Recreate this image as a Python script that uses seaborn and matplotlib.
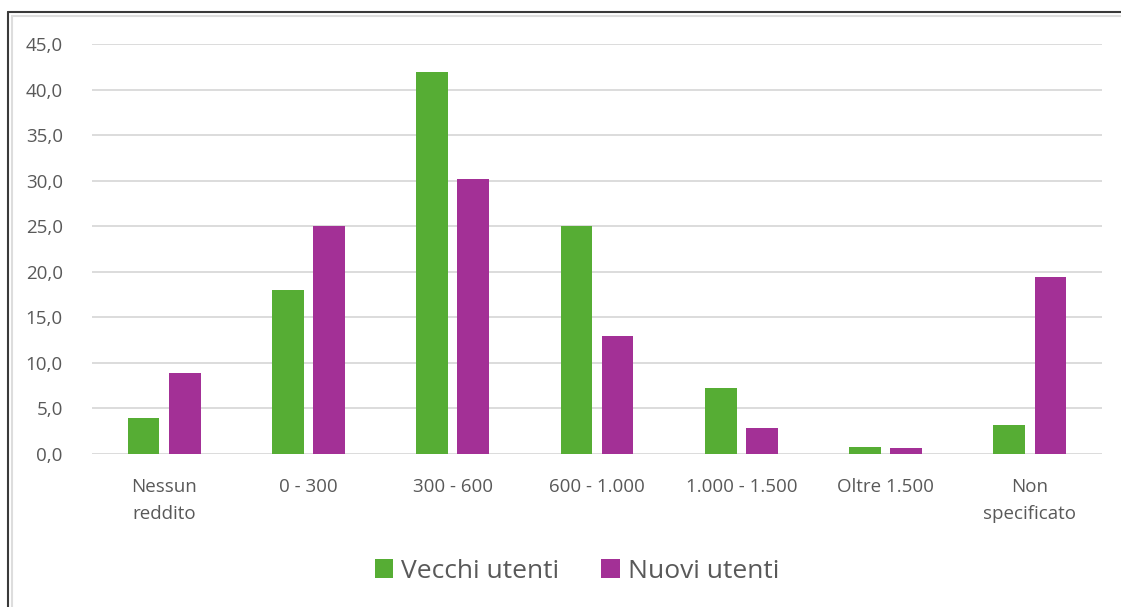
import pandas as pd
import matplotlib.pyplot as plt
import seaborn as sns
from matplotlib.lines import Line2D
from matplotlib.ticker import FuncFormatter

# Data (percent)
categories = ['Nessun\nreddito', '0 - 300', '300 - 600', '600 - 1.000',
              '1.000 - 1.500', 'Oltre 1.500', 'Non\nspecificato']
vecchi = [3.9, 18.0, 41.9, 25.0, 7.2, 0.8, 3.2]
nuovi = [8.9, 25.0, 30.2, 13.0, 2.8, 0.7, 19.4]
series_names = ['Vecchi utenti', 'Nuovi utenti']

custom_colors = ['#56AD34', '#A33096']
text_color = '#595959'

df = pd.DataFrame({
    'categoria': categories * 2,
    'valore': vecchi + nuovi,
    'serie': [series_names[0]] * len(categories) + [series_names[1]] * len(categories),
})

sns.set_style('white')
plt.rcParams['font.family'] = ['Open Sans', 'DejaVu Sans']

fig = plt.figure(figsize=(11.21, 6.07), dpi=100)
ax = fig.add_axes([92 / 1121, 1 - 454 / 607, 1010 / 1121, 410 / 607])

sns.barplot(data=df, x='categoria', y='valore', hue='serie', palette=custom_colors,
            width=0.57, gap=0.23, ax=ax, saturation=1, edgecolor='none')

ax.set_ylim(0, 45)
ax.set_xlim(-0.5, len(categories) - 0.5)
ax.set_yticks(range(0, 50, 5))
ax.yaxis.set_major_formatter(FuncFormatter(lambda v, p: f'{v:.1f}'.replace('.', ',')))
ax.grid(axis='y', color='#D9D9D9', linewidth=1.3)
ax.set_axisbelow(True)
for s in ax.spines.values():
    s.set_visible(False)
ax.tick_params(axis='both', length=0, colors=text_color, labelsize=13.5)
ax.tick_params(axis='x', pad=17)
ax.tick_params(axis='y', pad=21)
for lbl in ax.get_xticklabels():
    lbl.set_linespacing(1.65)
ax.set_xlabel('')
ax.set_ylabel('')

ax.legend(loc='center', bbox_to_anchor=(577 / 1121, 1 - 571 / 607),
          bbox_transform=fig.transFigure, ncol=2, frameon=False,
          fontsize=19, labelcolor=text_color, handlelength=0.7, handleheight=0.7,
          handletextpad=0.3, columnspacing=1.6)

# window border from the screenshot
fig.add_artist(Line2D([8 / 1121, 8 / 1121], [0, 1 - 12 / 607], color='#3A3A3A', lw=1.5))
fig.add_artist(Line2D([8 / 1121, 1], [1 - 12 / 607, 1 - 12 / 607], color='#3A3A3A', lw=1.5))
fig.add_artist(Line2D([11.5 / 1121, 11.5 / 1121], [0, 1 - 15.5 / 607], color='#DDDDDD', lw=1.5))
fig.add_artist(Line2D([11.5 / 1121, 1], [1 - 15.5 / 607, 1 - 15.5 / 607], color='#DDDDDD', lw=1.5))

fig.savefig('out.png', dpi=100)
